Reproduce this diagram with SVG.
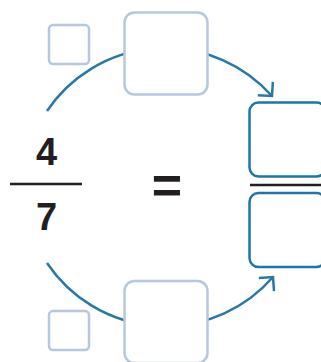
<svg xmlns="http://www.w3.org/2000/svg" width="321" height="362" viewBox="0 0 321 362">
<style>
.lt{fill:#fff;stroke:#b6c8dd;stroke-width:2.5}
.dk{fill:#fff;stroke:#1c76a8;stroke-width:2.5}
.arc{fill:none;stroke:#2878a6;stroke-width:2.5}
.num{font-family:"Liberation Sans",Arial,sans-serif;font-weight:bold;fill:#231f20;text-anchor:middle}
.bar{stroke:#231f20;stroke-width:2.5}
</style>
<defs>
<marker id="ah" markerUnits="userSpaceOnUse" markerWidth="30" markerHeight="30" refX="0" refY="0" viewBox="-15 -15 30 30" orient="auto" overflow="visible">
<path d="M-10,-10 L0,0 L-10,10" fill="none" stroke="#2878a6" stroke-width="2.5"/>
</marker>
</defs>
<g id="connectors">
<path class="arc" d="M47,111 A142.5,142.5 0 0 1 272,96" marker-end="url(#ah)"/>
<path class="arc" d="M47,263 A142.5,142.5 0 0 0 273,277" marker-end="url(#ah)"/>
</g>
<g id="small-top"><rect class="lt" x="49" y="25" width="40" height="39" rx="4"/></g>
<g id="big-top"><rect class="lt" x="124.5" y="12.5" width="83" height="82" rx="10"/></g>
<g id="small-bottom"><rect class="lt" x="49" y="311" width="40" height="39" rx="4"/></g>
<g id="big-bottom"><rect class="lt" x="124.5" y="281" width="83" height="82" rx="10"/></g>
<g id="fraction-left">
<text class="num" x="46.5" y="165" font-size="38">4</text>
<line class="bar" x1="10" y1="184" x2="82" y2="184"/>
<text class="num" x="46.5" y="230" font-size="38">7</text>
</g>
<g id="equals"><text class="num" x="167" y="203" font-size="52">=</text></g>
<g id="fraction-right">
<rect class="dk" x="249.5" y="102.5" width="76" height="74" rx="9"/>
<line class="bar" x1="250" y1="185" x2="321" y2="185"/>
<rect class="dk" x="249.5" y="193" width="76" height="74" rx="9"/>
</g>
</svg>
